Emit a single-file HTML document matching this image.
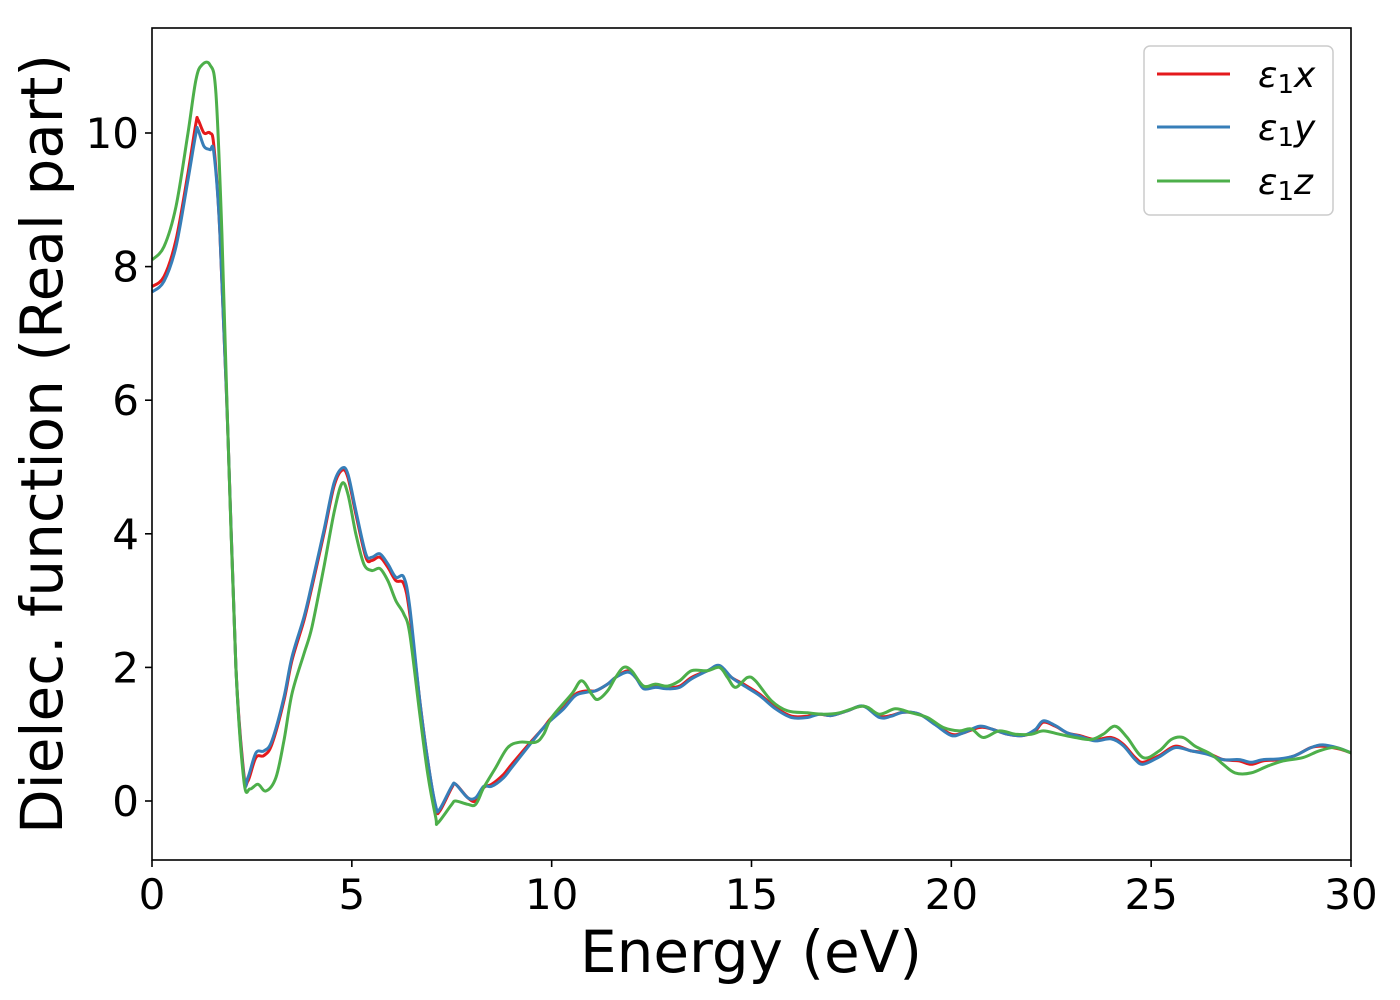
<!DOCTYPE html>
<html><head><meta charset="utf-8">
<style>
html,body{margin:0;padding:0;background:#fff;}
svg{display:block;font-family:"DejaVu Sans","Liberation Sans",sans-serif;}
</style></head>
<body>
<svg id="chart" width="1400" height="1000" viewBox="0 0 1400 1000" xmlns="http://www.w3.org/2000/svg">
<rect x="152" y="28" width="1199" height="832" fill="#fff"/>
<g id="series"></g>
<rect x="152" y="28" width="1199" height="832" fill="none" stroke="#000" stroke-width="1.6"/>
<g id="xticks"></g>
<g id="yticks"></g>
<text x="751" y="972" font-size="58" text-anchor="middle">Energy (eV)</text>
<text transform="translate(62,444) rotate(-90)" font-size="58" text-anchor="middle">Dielec. function (Real part)</text>
<g>
<rect x="1144" y="46" width="189" height="169" rx="6" fill="#fff" stroke="#ccc" stroke-width="1.5"/>
<line x1="1157" y1="74" x2="1230" y2="74" stroke="#e41a1c" stroke-width="3"/>
<text x="1258" y="87" font-size="36" font-style="italic">ε<tspan font-style="normal" font-size="26" dy="6">1</tspan><tspan dy="-6">x</tspan></text>
<line x1="1157" y1="127" x2="1230" y2="127" stroke="#377eb8" stroke-width="3"/>
<text x="1258" y="140" font-size="36" font-style="italic">ε<tspan font-style="normal" font-size="26" dy="6">1</tspan><tspan dy="-6">y</tspan></text>
<line x1="1157" y1="181" x2="1230" y2="181" stroke="#4daf4a" stroke-width="3"/>
<text x="1258" y="194" font-size="36" font-style="italic">ε<tspan font-style="normal" font-size="26" dy="6">1</tspan><tspan dy="-6">z</tspan></text>
</g>
</svg>
<script>
const xTicks=[0,5,10,15,20,25,30];
const yTicks=[0,2,4,6,8,10];
const energyX=[0,0.3,0.6,0.9,1.1,1.15,1.3,1.45,1.55,1.7,1.9,2.1,2.3,2.4,2.6,2.8,3.0,3.3,3.5,3.8,4.0,4.3,4.55,4.75,4.9,5.1,5.35,5.5,5.7,5.9,6.1,6.3,6.45,6.7,6.9,7.1,7.2,7.5,7.6,7.9,8.1,8.3,8.5,8.8,9.0,9.5,9.8,10.0,10.3,10.6,10.9,11.1,11.4,11.6,11.9,12.1,12.3,12.6,12.9,13.2,13.5,13.9,14.2,14.5,14.8,15.2,15.6,16.0,16.4,16.7,17.0,17.4,17.8,18.2,18.5,18.8,19.2,19.6,20.0,20.3,20.7,21.0,21.4,21.8,22.1,22.3,22.6,22.9,23.2,23.6,24.0,24.3,24.6,24.8,25.2,25.6,26.0,26.4,26.8,27.2,27.5,27.8,28.2,28.6,29.0,29.3,29.7,30];
const eps1x=[7.7,7.85,8.4,9.4,10.15,10.2,10.0,10.0,9.8,8.5,5.5,2.0,0.4,0.3,0.65,0.68,0.85,1.5,2.1,2.7,3.2,4.0,4.7,4.95,4.85,4.3,3.65,3.6,3.65,3.5,3.3,3.25,2.8,1.5,0.6,-0.1,-0.15,0.2,0.25,0.05,0.0,0.2,0.25,0.4,0.55,0.9,1.1,1.25,1.4,1.6,1.65,1.65,1.75,1.85,1.95,1.85,1.7,1.72,1.7,1.72,1.85,1.95,2.02,1.85,1.75,1.6,1.4,1.27,1.27,1.3,1.28,1.35,1.42,1.27,1.28,1.33,1.3,1.15,1.0,1.02,1.1,1.08,1.0,0.98,1.05,1.18,1.12,1.02,0.98,0.92,0.95,0.85,0.65,0.58,0.68,0.82,0.75,0.72,0.62,0.6,0.55,0.6,0.62,0.68,0.8,0.82,0.78,0.72];
const eps1y=[7.62,7.78,8.3,9.3,10.0,10.05,9.8,9.75,9.7,8.5,5.5,2.0,0.35,0.35,0.72,0.75,0.9,1.55,2.15,2.75,3.25,4.05,4.75,4.98,4.9,4.35,3.7,3.65,3.7,3.55,3.35,3.35,2.9,1.5,0.6,-0.08,-0.12,0.22,0.25,0.05,0.05,0.22,0.22,0.35,0.5,0.88,1.1,1.22,1.38,1.58,1.63,1.65,1.75,1.85,1.93,1.85,1.68,1.7,1.68,1.7,1.83,1.95,2.03,1.85,1.73,1.58,1.38,1.25,1.25,1.3,1.28,1.35,1.42,1.25,1.27,1.33,1.3,1.14,0.98,1.02,1.12,1.08,1.0,0.98,1.07,1.2,1.13,1.02,0.97,0.9,0.93,0.83,0.62,0.55,0.66,0.8,0.75,0.7,0.62,0.62,0.58,0.62,0.63,0.68,0.8,0.84,0.79,0.72];
const energyZ=[0,0.3,0.6,0.9,1.1,1.25,1.45,1.6,1.75,1.9,2.1,2.3,2.45,2.65,2.85,3.1,3.3,3.5,3.8,4.0,4.3,4.55,4.75,4.9,5.1,5.3,5.5,5.7,5.9,6.1,6.3,6.45,6.7,6.9,7.1,7.15,7.5,7.6,7.9,8.1,8.3,8.6,8.9,9.2,9.6,9.8,10.0,10.5,10.75,11.0,11.15,11.4,11.6,11.8,12.0,12.3,12.6,12.9,13.2,13.5,13.9,14.2,14.4,14.6,14.9,15.1,15.5,15.9,16.4,16.8,17.2,17.8,18.2,18.6,19.0,19.4,19.8,20.2,20.5,20.8,21.2,21.6,22.0,22.3,22.7,23.1,23.5,23.8,24.1,24.4,24.8,25.2,25.5,25.8,26.1,26.5,26.8,27.1,27.5,27.9,28.3,28.8,29.2,29.6,30];
const eps1z=[8.1,8.3,8.9,10.0,10.8,11.02,11.02,10.6,8.5,5.5,2.0,0.3,0.18,0.25,0.15,0.35,0.9,1.6,2.2,2.6,3.5,4.3,4.75,4.6,4.0,3.55,3.45,3.48,3.3,3.0,2.8,2.5,1.3,0.4,-0.25,-0.33,-0.05,0.0,-0.05,-0.05,0.2,0.5,0.8,0.88,0.88,1.0,1.25,1.6,1.8,1.6,1.52,1.65,1.85,2.0,1.95,1.72,1.75,1.72,1.8,1.95,1.95,2.0,1.85,1.7,1.85,1.8,1.5,1.35,1.32,1.3,1.32,1.42,1.3,1.38,1.32,1.25,1.1,1.05,1.08,0.95,1.05,1.0,1.0,1.05,1.0,0.95,0.92,1.0,1.12,0.95,0.65,0.75,0.92,0.95,0.82,0.7,0.55,0.42,0.42,0.52,0.6,0.65,0.75,0.8,0.72];

const NS='http://www.w3.org/2000/svg';
const X0=152,X1=1351,Y0v=801,PXY=66.8;
function xs(v){return X0+(v-0)/30*(X1-X0);}
function ys(v){return Y0v-v*PXY;}
function smoothPath(xa,ya){
  const p=xa.map((x,i)=>[xs(x),ys(ya[i])]);
  let d='M'+p[0][0].toFixed(1)+','+p[0][1].toFixed(1);
  for(let i=0;i<p.length-1;i++){
    const a=p[Math.max(0,i-1)],b=p[i],c=p[i+1],e=p[Math.min(p.length-1,i+2)];
    const c1=[b[0]+(c[0]-a[0])/6,b[1]+(c[1]-a[1])/6];
    const c2=[c[0]-(e[0]-b[0])/6,c[1]-(e[1]-b[1])/6];
    d+='C'+c1[0].toFixed(1)+','+c1[1].toFixed(1)+' '+c2[0].toFixed(1)+','+c2[1].toFixed(1)+' '+c[0].toFixed(1)+','+c[1].toFixed(1);
  }
  return d;
}
const g=document.getElementById('series');
function addLine(xa,ya,color,name){
  const p=document.createElementNS(NS,'path');
  p.setAttribute('d',smoothPath(xa,ya));
  p.setAttribute('fill','none');
  p.setAttribute('stroke',color);
  p.setAttribute('stroke-width','3');
  p.setAttribute('stroke-linejoin','round');
  
  
  g.appendChild(p);
}
addLine(energyX,eps1x,'#e41a1c','line-eps1x');
addLine(energyX,eps1y,'#377eb8','line-eps1y');
addLine(energyZ,eps1z,'#4daf4a','line-eps1z');

const gx=document.getElementById('xticks');
xTicks.forEach(t=>{
  const l=document.createElementNS(NS,'line');
  l.setAttribute('x1',xs(t));l.setAttribute('x2',xs(t));
  l.setAttribute('y1',860);l.setAttribute('y2',867);
  l.setAttribute('stroke','#000');l.setAttribute('stroke-width','1.6');
  
  
  gx.appendChild(l);
  const tx=document.createElementNS(NS,'text');
  tx.setAttribute('x',xs(t));tx.setAttribute('y',909);
  tx.setAttribute('font-size','42');tx.setAttribute('text-anchor','middle');
  tx.textContent=t;
  
  
  gx.appendChild(tx);
});
const gy=document.getElementById('yticks');
yTicks.forEach(t=>{
  const l=document.createElementNS(NS,'line');
  l.setAttribute('x1',145);l.setAttribute('x2',152);
  l.setAttribute('y1',ys(t));l.setAttribute('y2',ys(t));
  l.setAttribute('stroke','#000');l.setAttribute('stroke-width','1.6');
  
  
  gy.appendChild(l);
  const tx=document.createElementNS(NS,'text');
  tx.setAttribute('x',139);tx.setAttribute('y',ys(t)+15);
  tx.setAttribute('font-size','42');tx.setAttribute('text-anchor','end');
  tx.textContent=t;
  
  
  gy.appendChild(tx);
});
</script>
</body></html>
